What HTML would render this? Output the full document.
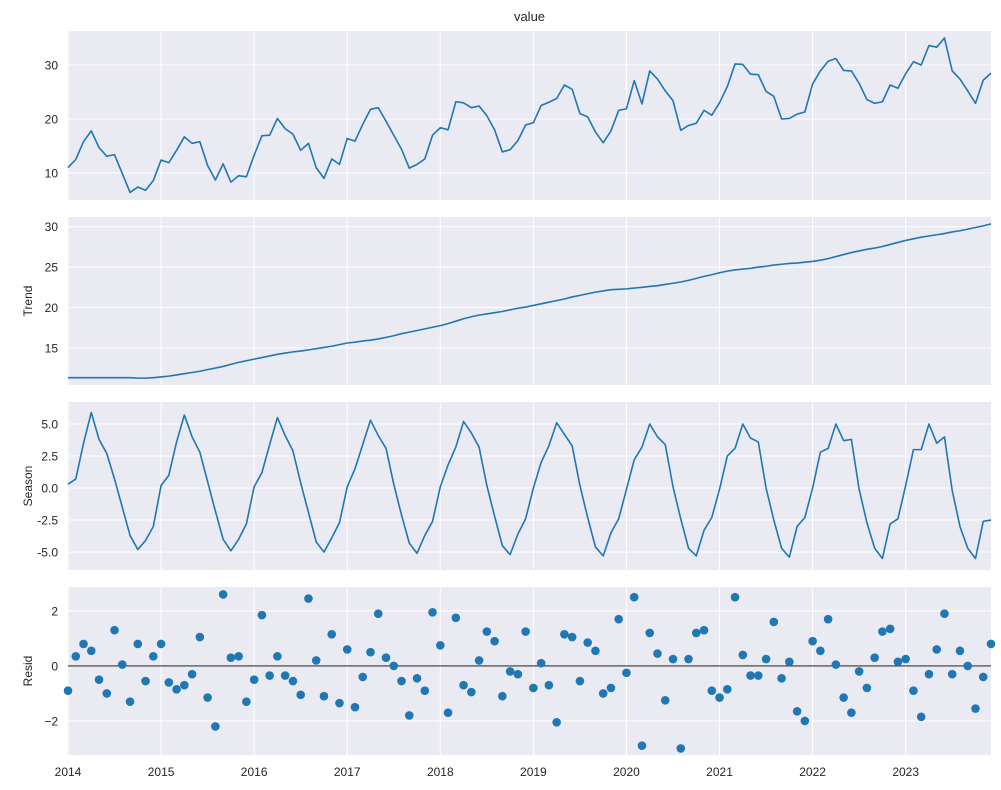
<!DOCTYPE html>
<html><head><meta charset="utf-8">
<style>
html,body{margin:0;padding:0;background:#fff;}
svg{display:block;font-family:"Liberation Sans","DejaVu Sans",sans-serif;}
</style></head>
<body>
<svg id="chart" width="1001" height="790" viewBox="0 0 1001 790" xmlns="http://www.w3.org/2000/svg"></svg>
<script>
const years = [2014,2015,2016,2017,2018,2019,2020,2021,2022,2023];
const observed = [
11.0,12.5,15.8,17.8,14.7,13.1,13.4,9.9,6.4,7.4,6.8,8.6,
12.4,11.9,14.2,16.7,15.5,15.8,11.4,8.7,11.7,8.3,9.5,9.3,
13.3,16.9,17.0,20.1,18.2,17.2,14.2,15.5,11.0,9.0,12.6,11.6,
16.4,15.9,19.0,21.8,22.1,19.6,17.0,14.4,10.9,11.6,12.6,17.0,
18.4,18.0,23.2,23.0,22.1,22.4,20.6,18.0,13.9,14.3,16.0,18.9,
19.3,22.5,23.1,23.8,26.3,25.5,21.0,20.4,17.6,15.6,17.8,21.6,
21.9,27.1,22.8,28.9,27.4,25.2,23.4,17.9,18.8,19.2,21.6,20.7,
23.0,26.0,30.2,30.1,28.3,28.2,25.1,24.2,20.0,20.1,20.9,21.3,
26.5,28.9,30.7,31.2,29.0,28.9,26.6,23.6,22.9,23.2,26.3,25.7,
28.4,30.6,30.0,33.6,33.3,35.0,28.9,27.4,25.2,22.9,27.2,28.5];
const trend = [
11.3,11.3,11.3,11.3,11.3,11.3,11.3,11.3,11.3,11.25,11.25,11.3,
11.4,11.5,11.65,11.8,11.95,12.1,12.3,12.5,12.7,12.95,13.2,13.4,
13.6,13.8,14.0,14.2,14.35,14.5,14.6,14.75,14.9,15.05,15.2,15.4,
15.6,15.7,15.85,15.95,16.1,16.3,16.5,16.75,16.95,17.15,17.35,17.55,
17.75,18.0,18.3,18.6,18.85,19.05,19.2,19.35,19.5,19.7,19.9,20.05,
20.25,20.45,20.65,20.85,21.05,21.3,21.5,21.7,21.9,22.05,22.2,22.25,
22.3,22.4,22.5,22.6,22.7,22.85,23.0,23.15,23.35,23.6,23.85,24.05,
24.3,24.5,24.65,24.75,24.85,25.0,25.1,25.25,25.35,25.45,25.5,25.6,
25.7,25.85,26.05,26.3,26.55,26.8,27.0,27.2,27.35,27.55,27.8,28.05,
28.3,28.5,28.7,28.85,29.0,29.15,29.35,29.5,29.7,29.9,30.1,30.35];
const season = [
0.3,0.7,3.5,5.9,3.8,2.7,0.7,-1.5,-3.7,-4.8,-4.1,-3.0,
0.2,1.0,3.6,5.7,4.0,2.8,0.5,-1.8,-4.0,-4.9,-4.0,-2.8,
0.1,1.2,3.4,5.5,4.1,2.9,0.4,-1.9,-4.2,-5.0,-3.9,-2.7,
0.1,1.5,3.4,5.3,4.1,3.1,0.3,-2.1,-4.3,-5.1,-3.7,-2.6,
0.1,1.8,3.2,5.2,4.3,3.2,0.2,-2.2,-4.5,-5.2,-3.6,-2.4,
0.0,2.0,3.3,5.1,4.2,3.3,0.2,-2.3,-4.6,-5.3,-3.5,-2.4,
-0.1,2.2,3.2,5.0,4.0,3.4,0.1,-2.4,-4.7,-5.3,-3.3,-2.3,
-0.1,2.5,3.1,5.0,3.9,3.6,0.0,-2.5,-4.7,-5.4,-3.0,-2.3,
0.0,2.8,3.1,5.0,3.7,3.8,-0.1,-2.7,-4.7,-5.5,-2.8,-2.4,
0.2,3.0,3.0,5.0,3.5,4.0,-0.2,-3.0,-4.7,-5.5,-2.6,-2.5];
const resid = [
-0.9,0.35,0.8,0.55,-0.5,-1.0,1.3,0.05,-1.3,0.8,-0.55,0.35,
0.8,-0.6,-0.85,-0.7,-0.3,1.05,-1.15,-2.2,2.6,0.3,0.35,-1.3,
-0.5,1.85,-0.35,0.35,-0.35,-0.55,-1.05,2.45,0.2,-1.1,1.15,-1.35,
0.6,-1.5,-0.4,0.5,1.9,0.3,0.0,-0.55,-1.8,-0.45,-0.9,1.95,
0.75,-1.7,1.75,-0.7,-0.95,0.2,1.25,0.9,-1.1,-0.2,-0.3,1.25,
-0.8,0.1,-0.7,-2.05,1.15,1.05,-0.55,0.85,0.55,-1.0,-0.8,1.7,
-0.25,2.5,-2.9,1.2,0.45,-1.25,0.25,-3.0,0.25,1.2,1.3,-0.9,
-1.15,-0.85,2.5,0.4,-0.35,-0.35,0.25,1.6,-0.45,0.15,-1.65,-2.0,
0.9,0.55,1.7,0.05,-1.15,-1.7,-0.2,-0.8,0.3,1.25,1.35,0.15,
0.25,-0.9,-1.85,-0.3,0.6,1.9,-0.3,0.55,0.0,-1.55,-0.4,0.8];
const ticksObs = [10,20,30];
const ticksTrend = [15,20,25,30];
const ticksSeason = [-5,-2.5,0,2.5,5];
const ticksResid = [-2,0,2];

const NS = "http://www.w3.org/2000/svg";
const svg = document.getElementById('chart');
const X0 = 68, X1 = 991;
const n = observed.length;
function xIdx(i){ return X0 + i*(X1-X0)/(n-1); }
function xYear(y){ return X0 + (y-years[0])*12*(X1-X0)/(n-1); }
function mk(tag, attrs, parent){
  const e = document.createElementNS(NS, tag);
  for (const k in attrs) e.setAttribute(k, attrs[k]);
  (parent||svg).appendChild(e);
  return e;
}
const panels = [
  {name:'observed', data:observed, top:31, bot:200, vmin:5.0, vmax:36.3, ticks:ticksObs, fmt:v=>String(v), label:null, kind:'line'},
  {name:'trend', data:trend, top:217, bot:385, vmin:10.4, vmax:31.2, ticks:ticksTrend, fmt:v=>String(v), label:'Trend', kind:'line'},
  {name:'season', data:season, top:402, bot:570, vmin:-6.4, vmax:6.72, ticks:ticksSeason, fmt:v=>v.toFixed(1), label:'Season', kind:'line'},
  {name:'resid', data:resid, top:587, bot:755, vmin:-3.24, vmax:2.87, ticks:ticksResid, fmt:v=>String(v).replace('-','\u2212'), label:'Resid', kind:'scatter'}
];
panels.forEach(p=>{
  const g = mk('g', {});
  
  
  const y = v => p.bot - (v - p.vmin)*(p.bot-p.top)/(p.vmax-p.vmin);
  const bg = mk('rect', {x:X0, y:p.top, width:X1-X0, height:p.bot-p.top, fill:'#eaeaf2'}, g);
  
  
  years.forEach(yr=>{
    const gx = mk('line', {x1:xYear(yr), x2:xYear(yr), y1:p.top, y2:p.bot, stroke:'#fff', 'stroke-width':1}, g);
    
    
  });
  p.ticks.forEach(t=>{
    const gy = mk('line', {x1:X0, x2:X1, y1:y(t), y2:y(t), stroke:'#fff', 'stroke-width':1}, g);
    
    
    const tl = mk('text', {x:58, y:y(t)+4.5, 'text-anchor':'end', 'font-size':12, fill:'#262626'}, g);
    tl.textContent = p.fmt(t);
    
    
  });
  if (p.label){
    const cy = (p.top+p.bot)/2;
    const lb = mk('text', {x:0, y:0, transform:`translate(32,${cy}) rotate(-90)`, 'text-anchor':'middle', 'font-size':12, fill:'#262626'}, g);
    lb.textContent = p.label;
    
    
  }
  if (p.kind==='line'){
    const d = p.data.map((v,i)=>(i?'L':'M')+xIdx(i).toFixed(2)+','+y(v).toFixed(2)).join('');
    const path = mk('path', {d:d, fill:'none', stroke:'#1f77b4', 'stroke-width':1.6, 'stroke-linejoin':'round'}, g);
    
    
  } else {
    const zl = mk('line', {x1:X0, x2:X1, y1:y(0), y2:y(0), stroke:'#000', 'stroke-width':0.8}, g);
    
    
    p.data.forEach((v,i)=>{
      const c = mk('circle', {cx:xIdx(i), cy:y(v), r:4.3, fill:'#1f77b4'}, g);
      
      
    });
  }
});
const title = mk('text', {x:(X0+X1)/2, y:21, 'text-anchor':'middle', 'font-size':13, fill:'#262626'});
title.textContent = 'value';


years.forEach(yr=>{
  const t = mk('text', {x:xYear(yr), y:776, 'text-anchor':'middle', 'font-size':12, fill:'#262626'});
  t.textContent = String(yr);
  
  
});
</script>
</body></html>
